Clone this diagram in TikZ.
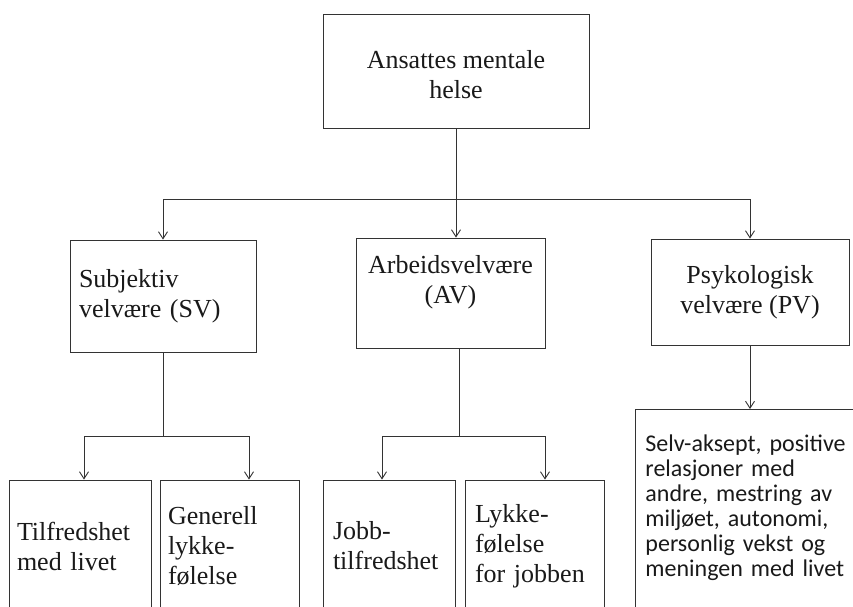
\documentclass[tikz,border=0pt]{standalone}
\usepackage{fontspec}
\setmainfont{Liberation Serif}
\newfontfamily\listfont{Carlito}
\usepackage{tikz}
\usetikzlibrary{shapes,arrows}
\usetikzlibrary{arrows.meta}

\begin{document}
\begin{tikzpicture}[x=1pt, y=-1pt,
  box/.style={shape=rectangle, draw=black!80, line width=0.9pt, inner sep=0pt,
    text=black!90, font=\fontsize{26}{30}\selectfont},
  >={Straight Barb[length=7pt,width=9pt]}]
\useasboundingbox (0,0) rectangle (853,606);
\clip (0,0) rectangle (853,606);

\node (helse) at (456,71) [box, minimum width=266pt, minimum height=114pt, align=center, text height=56pt] {Ansattes mentale\\helse};

\node (sv) at (163,296) [box, minimum width=186pt, minimum height=112pt, text width=168pt, align=left] {Subjektiv\\velvære (SV)};
\node (av) at (450.5,293) [box, minimum width=189pt, minimum height=110pt, align=center, text depth=28pt] {Arbeidsvelvære\\(AV)};
\node (pv) at (750,292) [box, minimum width=198pt, minimum height=106pt, align=center] {Psykologisk\\velvære (PV)};

\node (tilf) at (80,546) [box, minimum width=142pt, minimum height=132pt, text width=126pt, align=left] {Tilfredshet\\med livet};
\node (gen) at (229.5,546) [box, minimum width=139pt, minimum height=132pt, text width=123pt, align=left] {Generell\\lykke-\\følelse};
\node (jobb) at (389,546) [box, minimum width=132pt, minimum height=132pt, text width=112pt, align=left] {Jobb-\\tilfredshet};
\node (lykke) at (534.5,546) [box, minimum width=139pt, minimum height=132pt, text width=119pt, align=left] {Lykke-\\følelse\\for jobben};

\node (liste) at (635,409) [box, anchor=north west, minimum width=240pt, minimum height=240pt, text width=220pt, align=left, text depth=173pt, font=\listfont\fontsize{24}{25}\selectfont] {Selv-aksept, positive\\relasjoner med\\andre, mestring av\\miljøet, autonomi,\\personlig vekst og\\meningen med livet};

\coordinate (split) at (456,199);
\coordinate (svsplit) at (163,436);
\coordinate (avsplit) at (459,436);

\begin{scope}[line width=0.9pt, draw=black!80]
\draw [->] (helse) -- (helse |- av.north);
\draw [->] (split) -| (sv);
\draw [->] (split) -| (pv);

\draw (sv) -- (svsplit);
\draw [->] (svsplit) -| ([xshift=4pt]tilf.north);
\draw [->] (svsplit) -| ([xshift=19.5pt]gen.north);

\draw (av.south -| avsplit) -- (avsplit);
\draw [->] (avsplit) -| ([xshift=-7pt]jobb.north);
\draw [->] (avsplit) -| ([xshift=10.5pt]lykke.north);

\draw [->] (pv) -- (pv |- liste.north);
\end{scope}
\end{tikzpicture}
\end{document}
